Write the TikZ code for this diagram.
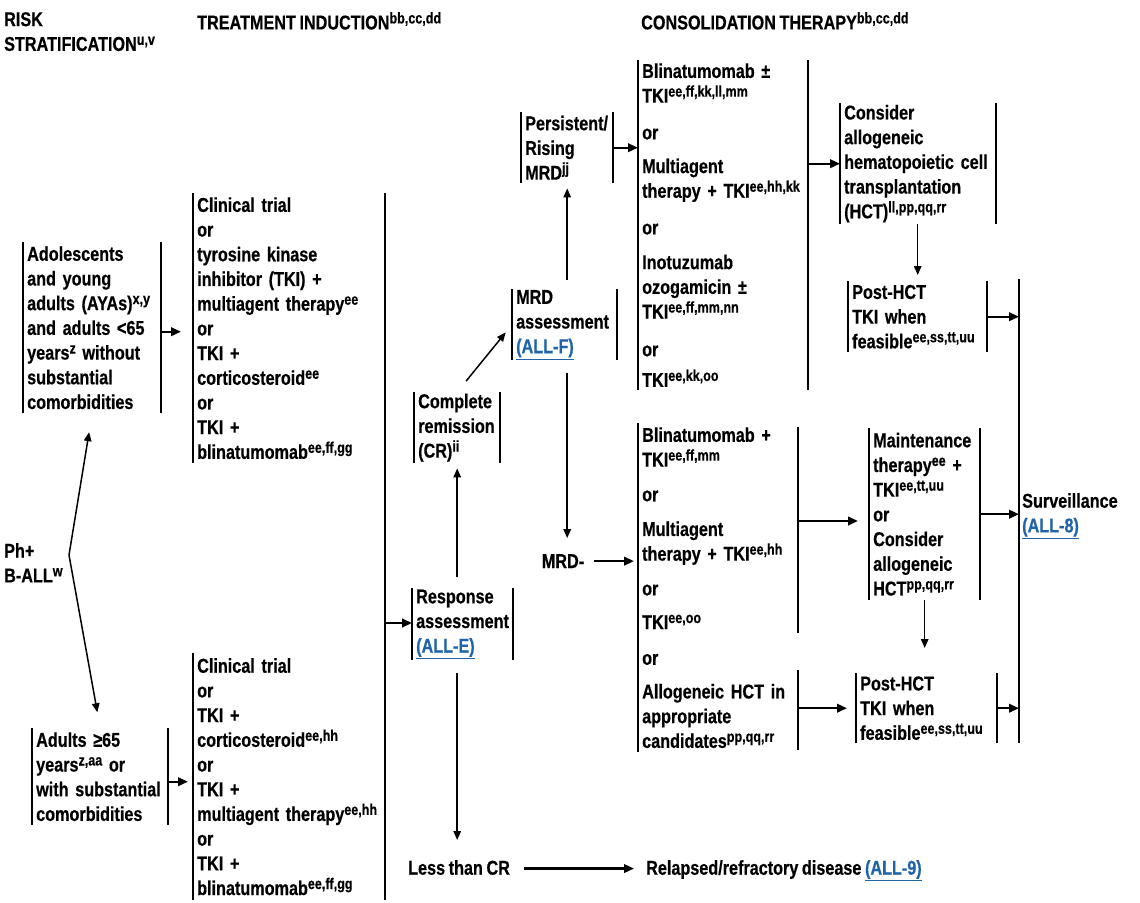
\documentclass[tikz,border=0pt]{standalone}
\usepackage{fontspec}
\setmainfont{Liberation Sans}[FakeStretch=0.81,WordSpace=0.8,BoldFeatures={FakeBold=0.5}]
\usetikzlibrary{arrows.meta}
\definecolor{linkblue}{HTML}{1F64A8}
% small raised footnote letters
\newcommand\ssp[1]{\raisebox{6pt}{\fontsize{15.5}{15.5}\selectfont #1}}
% cross-reference link
\newcommand\lnk[1]{\textcolor{linkblue}{\underline{#1}}}

\begin{document}
\begin{tikzpicture}[x=1pt,y=-1pt,
  every node/.style={font=\bfseries\fontsize{20}{24.7}\selectfont},
  bar/.style={line width=1.9pt},
  arr/.style={line width=2.3pt,-{Triangle[length=10pt,width=8.5pt]}},
  thinarr/.style={line width=1.5pt,-{Triangle[length=9pt,width=7.5pt]}},
  txt/.style={inner sep=0pt,align=left,anchor=north west},
  brk/.style={inner xsep=4pt,inner ysep=0pt,align=left,anchor=north west,
    append after command={(\tikzlastnode.north west) edge[bar] (\tikzlastnode.south west)
      (\tikzlastnode.north east) edge[bar] (\tikzlastnode.south east)}},
  lbrk/.style={inner xsep=4pt,inner ysep=0pt,align=left,anchor=north west,
    append after command={(\tikzlastnode.north west) edge[bar] (\tikzlastnode.south west)}},
  bx/.style 2 args={text width=#1,minimum height=#2}]
\useasboundingbox (0,0) rectangle (1140,902);

% column headings
\node[txt] (h1) at (4,12) {RISK\\STRATIFICATION\ssp{u,v}};
\node[txt] (h2) at (197,12) {TREATMENT INDUCTION\ssp{bb,cc,dd}};
\node[txt] (h3) at (641,12) {CONSOLIDATION THERAPY\ssp{bb,cc,dd}};

% risk stratification
\node[txt] (ph) at (4,543) {Ph+\\B-ALL\ssp{w}};
\coordinate (fork) at (69,555);
\node[brk,bx={130}{171}] (aya) at (23,242) {Adolescents\\and young\\adults (AYAs)\ssp{x,y}\\and adults <65\\years\ssp{z} without\\substantial\\comorbidities};
\node[brk,bx={128}{97}] (old) at (32,728) {Adults ≥65\\years\ssp{z,aa} or\\with substantial\\comorbidities};

% induction
\node[lbrk,bx={180}{270}] (ind1) at (193,193) {Clinical trial\\or\\tyrosine kinase\\inhibitor (TKI) +\\multiagent therapy\ssp{ee}\\or\\TKI +\\corticosteroid\ssp{ee}\\or\\TKI +\\blinatumomab\ssp{ee,ff,gg}};
\node[lbrk,bx={180}{247}] (ind2) at (193,653) {Clinical trial\\or\\TKI +\\corticosteroid\ssp{ee,hh}\\or\\TKI +\\multiagent therapy\ssp{ee,hh}\\or\\TKI +\\blinatumomab\ssp{ee,ff,gg}};
\coordinate (ilt) at (385,193);
\coordinate (ilb) at (385,900);
\coordinate (ilm) at (385,623);

% response and MRD
\node[brk,bx={93}{72}] (resp) at (412,588) {Response\\assessment\\\lnk{(ALL-E)}};
\node[brk,bx={78}{71}] (cr) at (414,392) {Complete\\remission\\(CR)\ssp{ii}};
\node[brk,bx={97}{71}] (mrd) at (512,289) {MRD\\assessment\\\lnk{(ALL-F)}};
\node[brk,bx={84}{71}] (pers) at (521,112) {Persistent/\\Rising\\MRD\ssp{jj}};
\node[inner sep=0pt,anchor=base] (neg) at (563,568) {MRD-};
\node[txt] (less) at (408,860) {Less than CR};
\node[txt] (rel) at (646,860) {Relapsed/refractory disease \lnk{(ALL-9)}};

% consolidation
\node[brk,bx={162}{330}] (consA) at (638,60) {Blinatumomab ±\\TKI\ssp{ee,ff,kk,ll,mm}\\[12pt]or\\[9pt]Multiagent\\therapy + TKI\ssp{ee,hh,kk}\\[12pt]or\\[10pt]Inotuzumab\\ozogamicin ±\\TKI\ssp{ee,ff,mm,nn}\\[13pt]or\\[6pt]TKI\ssp{ee,kk,oo}};
\node[lbrk,bx={150}{329}] (consB) at (638,423) {Blinatumomab +\\TKI\ssp{ee,ff,mm}\\[10pt]or\\[10pt]Multiagent\\therapy + TKI\ssp{ee,hh}\\[10pt]or\\[9pt]TKI\ssp{ee,oo}\\[11pt]or\\[9pt]Allogeneic HCT in\\appropriate\\candidates\ssp{pp,qq,rr}};
\coordinate (b1t) at (798,427);
\coordinate (b1b) at (798,633);
\coordinate (b1m) at (798,521);
\coordinate (b2t) at (798,670);
\coordinate (b2b) at (798,750);

\node[brk,bx={148}{121}] (hct) at (840,103) {Consider\\allogeneic\\hematopoietic cell\\transplantation\\(HCT)\ssp{ll,pp,qq,rr}};
\node[brk,bx={131}{71}] (post1) at (848,281) {Post-HCT\\TKI when\\feasible\ssp{ee,ss,tt,uu}};
\node[brk,bx={103}{172}] (maint) at (869,428) {Maintenance\\therapy\ssp{ee} +\\TKI\ssp{ee,tt,uu}\\or\\Consider\\allogeneic\\HCT\ssp{pp,qq,rr}};
\node[brk,bx={133}{70}] (post2) at (856,673) {Post-HCT\\TKI when\\feasible\ssp{ee,ss,tt,uu}};

% surveillance
\coordinate (svt) at (1019,279);
\coordinate (svb) at (1019,743);
\node[txt] (surv) at (1022,493) {Surveillance\\\lnk{(ALL-8)}};

% bracket lines
\draw[bar] (ilt) -- (ilb);
\draw[bar] (b1t) -- (b1b);
\draw[bar] (b2t) -- (b2b);
\draw[bar] (svt) -- (svb);

% connectors
\draw[thinarr,shorten >=19pt] (fork) -- (aya.south);
\draw[thinarr,shorten >=16pt] (fork) -- (old.north);
\draw[arr,shorten >=12pt] ([yshift=-4pt]aya.east) -- ([yshift=-4pt]aya.east -| ind1.west);
\draw[arr,shorten >=5pt] ([yshift=-5pt]old.east) -- ([yshift=-5pt]old.east -| ind2.west);
\draw[arr] (ilm) -- (ilm -| resp.west);
\draw[thinarr,shorten <=11pt,shorten >=5pt] (cr.south |- resp.north) -- (cr.south);
\draw[thinarr,shorten <=13pt,shorten >=20pt] (cr.south |- resp.south) -- (cr.south |- less.north);
\draw[thinarr,shorten <=14pt,shorten >=10pt] (cr.north) -- (mrd.west);
\draw[thinarr,shorten <=9pt,shorten >=5pt] (pers.south |- mrd.north) -- (pers.south);
\draw[thinarr,shorten <=13pt,shorten >=16pt] (pers.south |- mrd.south) -- (pers.south |- neg.north);
\draw[arr] (pers.east) -- (pers.east -| consA.west);
\draw[arr,shorten <=10pt,shorten >=4pt] (neg.east) -- (neg.east -| consB.west);
\draw[arr,shorten <=14pt,shorten >=12pt] ([yshift=-1pt]less.east) -- ([yshift=-1pt]less.east -| rel.west);
\draw[arr] (hct.west -| consA.east) -- (hct.west);
\draw[thinarr,shorten >=6pt] (hct.south -| post1.north) -- (post1.north);
\draw[arr] (post1.east) -- (post1.east -| svt);
\draw[arr,shorten >=11pt] (b1m) -- (b1m -| maint.west);
\draw[arr,shorten >=9pt] (post2.west -| b2t) -- (post2.west);
\draw[arr] (maint.east) -- (maint.east -| svt);
\draw[thinarr,shorten >=25pt] (maint.south) -- (maint.south |- post2.north);
\draw[arr] (post2.east) -- (post2.east -| svt);
\end{tikzpicture}
\end{document}
